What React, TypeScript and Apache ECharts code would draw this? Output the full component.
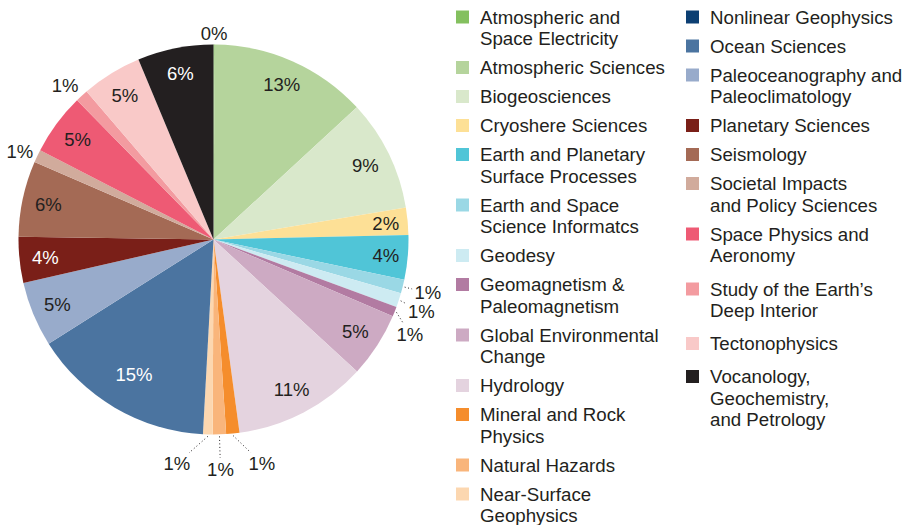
import React, { useEffect, useRef } from "react";
import * as echarts from "echarts";

// ---------- data ----------
const categories: string[] = [
  "Atmospheric and\nSpace Electricity",
  "Atmospheric Sciences",
  "Biogeosciences",
  "Cryoshere Sciences",
  "Earth and Planetary\nSurface Processes",
  "Earth and Space\nScience Informatcs",
  "Geodesy",
  "Geomagnetism &\nPaleomagnetism",
  "Global Environmental\nChange",
  "Hydrology",
  "Mineral and Rock\nPhysics",
  "Natural Hazards",
  "Near-Surface\nGeophysics",
  "Nonlinear Geophysics",
  "Ocean Sciences",
  "Paleoceanography and\nPaleoclimatology",
  "Planetary Sciences",
  "Seismology",
  "Societal Impacts\nand Policy Sciences",
  "Space Physics and\nAeronomy",
  "Study of the Earth’s\nDeep Interior",
  "Tectonophysics",
  "Vocanology,\nGeochemistry,\nand Petrology",
];

// share of sections, percent
const shares: number[] = [
  0.1, 13.07, 9.25, 2.25, 3.7, 1.14, 1.17, 0.82, 5.4, 11.06, 1.1, 1.1, 0.8, 0,
  15.2, 5.4, 3.8, 6.3, 1.07, 5.1, 1.06, 5.0, 6.3,
];

const colors: string[] = [
  "#84c05f", "#b5d49c", "#d9e8cb", "#fde096", "#50c5d7", "#9ad8e5", "#cdebf2",
  "#b27ba2", "#cdaac3", "#e4d3df", "#f58d2c", "#f9b57b", "#fcd7b0", "#0c3f73",
  "#4b74a0", "#98abcb", "#7a1f18", "#a46a55", "#d1ab9c", "#ee5a74", "#f39ba0",
  "#f9c9c8", "#231f20",
];

// ---------- layout / style ----------
const FONT = "'Liberation Sans', Arial, Helvetica, sans-serif";
const TEXT = "#231f20";
const CX = 213.5;
const CY = 239.5;
const R = 195;

const whiteLabel = new Set([
  "Ocean Sciences",
  "Planetary Sciences",
  "Vocanology,\nGeochemistry,\nand Petrology",
]);

// outer label placement: angular shift (deg), distance beyond the rim, leader line
const outerLabelPlacement: Record<string, { shift: number; dist: number; line: boolean }> = {
  "Atmospheric and\nSpace Electricity": { shift: 0, dist: 11, line: false },
  "Earth and Space\nScience Informatcs": { shift: 0, dist: 26, line: true },
  Geodesy: { shift: 1, dist: 25, line: true },
  "Geomagnetism &\nPaleomagnetism": { shift: 4, dist: 23, line: true },
  "Mineral and Rock\nPhysics": { shift: -6.5, dist: 34, line: true },
  "Natural Hazards": { shift: 0, dist: 35, line: true },
  "Near-Surface\nGeophysics": { shift: 7.6, dist: 32, line: true },
  "Societal Impacts\nand Policy Sciences": { shift: -1, dist: 17.5, line: false },
  "Study of the Earth’s\nDeep Interior": { shift: -1.4, dist: 19, line: false },
};
const innerLabelRadius: Record<string, number> = {
  "Ocean Sciences": 157,
  "Cryoshere Sciences": 173,
  "Earth and Planetary\nSurface Processes": 173,
};

// legend columns: x of swatch, item range, first-line centre y, gap between items
const legendColumns = [
  { x: 456, from: 0, to: 13, y0: 17, gap: 7.5 },
  { x: 686, from: 13, to: 20, y0: 17, gap: 7.5 },
  { x: 686, from: 20, to: 23, y0: 289, gap: 11.5 },
];
const LEGEND_LINE = 21.5;
const LEGEND_FONT = 18.7;
const SWATCH = 13;
const SWATCH_TEXT_GAP = 11;

const totalShare = shares.reduce((a, b) => a + b, 0);
const midAngles: number[] = [];
{
  let acc = 0;
  for (const v of shares) {
    midAngles.push(((acc + v / 2) / totalShare) * 360);
    acc += v;
  }
}
const polar = (deg: number, r: number): [number, number] => [
  CX + r * Math.sin((deg * Math.PI) / 180),
  CY - r * Math.cos((deg * Math.PI) / 180),
];

const HW = 13.4;
const HH = 9;
const GAP = 2.5;

function buildLegend() {
  const elements: any[] = [];
  for (const col of legendColumns) {
    let y = col.y0;
    for (let i = col.from; i < col.to; i++) {
      const name = categories[i];
      const lines = name.split("\n").length;
      elements.push({
        type: "rect",
        silent: true,
        shape: { x: col.x, y: y - SWATCH / 2, width: SWATCH, height: SWATCH },
        style: { fill: colors[i] },
      });
      elements.push({
        type: "text",
        silent: true,
        x: col.x + SWATCH + SWATCH_TEXT_GAP,
        y: y - LEGEND_LINE / 2,
        style: {
          text: name,
          font: `${LEGEND_FONT}px ${FONT}`,
          fill: TEXT,
          lineHeight: LEGEND_LINE,
          verticalAlign: "top",
          align: "left",
        },
      });
      y += lines * LEGEND_LINE + col.gap;
    }
  }
  return elements;
}

export default function App() {
  const ref = useRef<HTMLDivElement>(null);

  useEffect(() => {
    if (!ref.current) return;
    const chart = echarts.init(ref.current, undefined, { renderer: "svg" });

    const data = categories.map((name, i) => {
      const outer = outerLabelPlacement[name];
      return {
        name,
        value: shares[i],
        itemStyle: { color: colors[i] },
        label: {
          show: shares[i] > 0,
          position: outer ? "outside" : "inside",
          color: whiteLabel.has(name) ? "#ffffff" : TEXT,
        },
        labelLine: { show: !!(outer && outer.line) },
      };
    });

    chart.setOption({
      animation: false,
      backgroundColor: "#ffffff",
      graphic: { elements: buildLegend() },
      series: [
        {
          type: "pie",
          center: [CX, CY],
          radius: [0, R],
          startAngle: 90,
          clockwise: true,
          avoidLabelOverlap: false,
          silent: true,
          emphasis: { disabled: true },
          label: {
            fontFamily: FONT,
            fontSize: 18.5,
            formatter: (p: any) => Math.round(p.value) + "%",
          },
          labelLine: {
            show: false,
            lineStyle: { type: [1, 2.5], color: TEXT, width: 1 },
          },
          labelLayout: (p: any) => {
            const i = p.dataIndex;
            const name = categories[i];
            const outer = outerLabelPlacement[name];
            if (outer) {
              const theta = midAngles[i] + outer.shift;
              const [lx, ly] = polar(theta, R + outer.dist);
              const res: any = { x: lx, y: ly, align: "center", verticalAlign: "middle" };
              if (outer.line) {
                const [sx, sy] = polar(midAngles[i], R + 2);
                const dx = lx - sx;
                const dy = ly - sy;
                const len = Math.hypot(dx, dy);
                const ux = dx / len;
                const uy = dy / len;
                const ext =
                  Math.min(HW / Math.max(Math.abs(ux), 1e-6), HH / Math.max(Math.abs(uy), 1e-6)) + GAP;
                const ex = lx - ux * ext;
                const ey = ly - uy * ext;
                res.labelLinePoints = [
                  [sx, sy],
                  [ex, ey],
                  [ex, ey],
                ];
              }
              return res;
            }
            const r = innerLabelRadius[name] ?? 169;
            const [lx, ly] = polar(midAngles[i], r);
            return { x: lx, y: ly, align: "center", verticalAlign: "middle" };
          },
          data,
        },
      ],
    });

    return () => chart.dispose();
  }, []);

  return (
    <div
      ref={ref}
      style={{ position: "fixed", left: 0, top: 0, width: 904, height: 525, background: "#fff" }}
    />
  );
}
